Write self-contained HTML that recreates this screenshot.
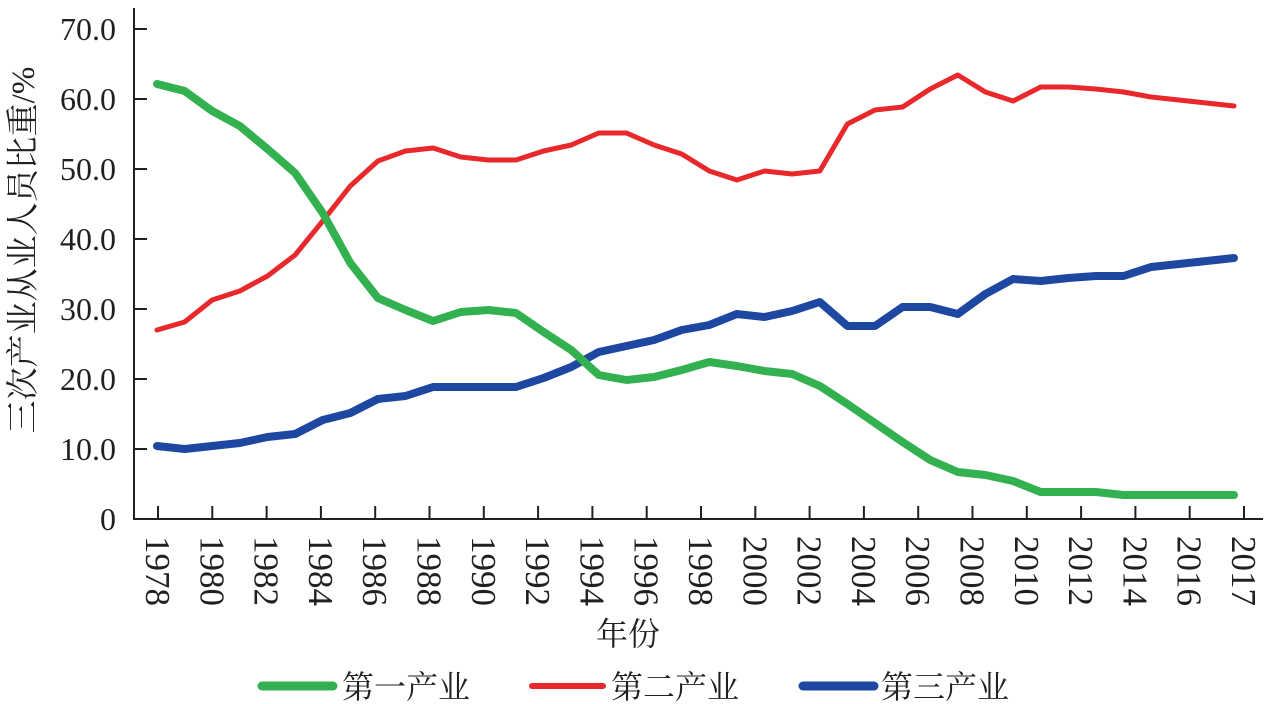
<!DOCTYPE html>
<html><head><meta charset="utf-8"><style>
html,body{margin:0;padding:0;background:#fff;}
svg{display:block;}
text{font-family:"Liberation Serif","Noto Serif CJK SC",serif;fill:#231f20;}
</style></head><body>
<svg width="1272" height="704" viewBox="0 0 1272 704" xmlns="http://www.w3.org/2000/svg">
<g stroke="#231f20" stroke-width="2" fill="none">
<line x1="134" y1="8" x2="134" y2="519"/>
<line x1="133" y1="519" x2="1263" y2="519"/>
<line x1="134" y1="29" x2="147" y2="29"/>
<line x1="134" y1="99" x2="147" y2="99"/>
<line x1="134" y1="169" x2="147" y2="169"/>
<line x1="134" y1="239" x2="147" y2="239"/>
<line x1="134" y1="309" x2="147" y2="309"/>
<line x1="134" y1="379" x2="147" y2="379"/>
<line x1="134" y1="449" x2="147" y2="449"/>
</g>
<g stroke="#231f20" stroke-width="2" id="xt"></g>
<g font-size="32" text-anchor="end">
<text x="116" y="40">70.0</text>
<text x="116" y="110">60.0</text>
<text x="116" y="180">50.0</text>
<text x="116" y="250">40.0</text>
<text x="116" y="320">30.0</text>
<text x="116" y="390">20.0</text>
<text x="116" y="460">10.0</text>
<text x="116" y="530">0</text>
</g>
<g id="xl" font-size="35"></g>
<text x="0" y="0" font-size="33" text-anchor="middle" transform="translate(34,250) rotate(-90)">三次产业从业人员比重/%</text>
<text x="628" y="645" font-size="32" text-anchor="middle">年份</text>
<polyline fill="none" stroke="#e8282a" stroke-width="5" stroke-linejoin="round" stroke-linecap="round" id="r"/>
<polyline fill="none" stroke="#1d47a0" stroke-width="8" stroke-linejoin="round" stroke-linecap="round" id="b"/>
<polyline fill="none" stroke="#33b04f" stroke-width="8" stroke-linejoin="round" stroke-linecap="round" id="g"/>
<line x1="262" y1="686" x2="333" y2="686" stroke="#33b04f" stroke-width="9" stroke-linecap="round"/>
<text x="342" y="698" font-size="32">第一产业</text>
<line x1="532" y1="686" x2="603" y2="686" stroke="#e8282a" stroke-width="6" stroke-linecap="round"/>
<text x="611" y="698" font-size="32">第二产业</text>
<line x1="803" y1="686" x2="874" y2="686" stroke="#1d47a0" stroke-width="9" stroke-linecap="round"/>
<text x="881" y="698" font-size="32">第三产业</text>
</svg>
<script>
var g=[84,91,111,126,149,173,213,263,298,310,321,312,310,313,332,350,375,380,377,370,362,366,371,374,386,404,423,442,460,472,475,481,492,492,492,495,495,495,495,495];
var r=[330,322,300,291,276,255,221,186,161,151,148,157,160,160,151,145,133,133,145,154,171,180,171,174,171,124,110,107,89,75,92,101,87,87,89,92,97,100,103,106];
var b=[446,449,446,443,437,434,420,413,399,396,387,387,387,387,378,367,352,346,340,330,325,314,317,311,302,326,326,307,307,314,294,279,281,278,276,276,267,264,261,258];
function pts(a){return a.map(function(y,i){return (157+i*27.615).toFixed(1)+","+y}).join(" ");}
document.getElementById("g").setAttribute("points",pts(g));
document.getElementById("r").setAttribute("points",pts(r));
document.getElementById("b").setAttribute("points",pts(b));
var ns="http://www.w3.org/2000/svg",xt=document.getElementById("xt"),xl=document.getElementById("xl");
for(var i=0;i<21;i++){var x=158+i*54.3;
var l=document.createElementNS(ns,"line");l.setAttribute("x1",x);l.setAttribute("x2",x);l.setAttribute("y1",506);l.setAttribute("y2",519);xt.appendChild(l);
var t=document.createElementNS(ns,"text");var yr=i<20?1978+2*i:2017;t.textContent=yr;
t.setAttribute("transform","translate("+(x-12)+",536) rotate(90)");xl.appendChild(t);}
</script>
</body></html>
